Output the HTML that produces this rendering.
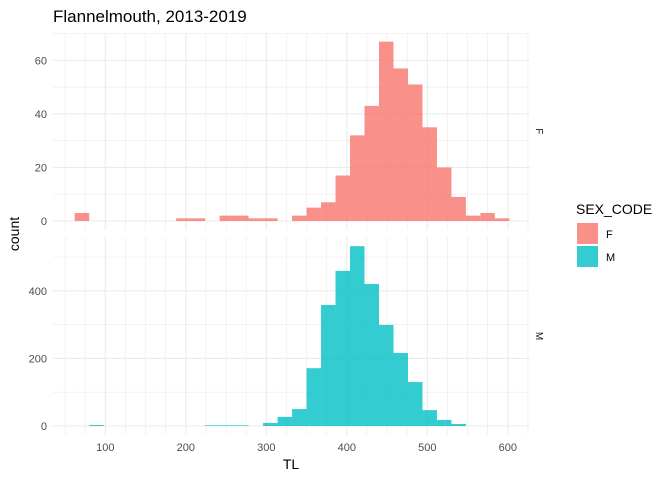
<!DOCTYPE html>
<html><head><meta charset="utf-8"><style>
body{margin:0;background:#fff;}
svg{font-family:"Liberation Sans",sans-serif;}
</style></head><body>
<svg id="c" width="672" height="480"></svg>
<script>
const binStart = 62;
const binWidth = 18;
const countsF = [3,0,0,0,0,0,0,1,1,0,2,2,1,1,0,2,5,7,17,32,43,67,57,51,35,20,9,2,3,1];
const countsM = [0,3,0,0,0,0,0,0,0,2,2,2,0,9,27,50,171,358,459,532,420,299,216,130,47,18,6,0,0,0];
const xTicks = [100,200,300,400,500,600];
const yTicksF = [0,20,40,60];
const yTicksM = [0,200,400];
const ns = "http://www.w3.org/2000/svg";
const svg = document.getElementById('c');
function mk(t,a,p){const e=document.createElementNS(ns,t);for(const k in a)e.setAttribute(k,a[k]);(p||svg).appendChild(e);return e;}
const px0=53, px1=530;
const xS = v => 105.3 + (v-100)*0.805;
const panels = [
 {name:'F', top:32.7, bottom:230, zero:221, k:2.677, counts:countsF, ticks:yTicksF, minor:10, max:70, color:'#F8766D'},
 {name:'M', top:237, bottom:435, zero:426, k:0.338, counts:countsM, ticks:yTicksM, minor:100, max:550, color:'#00BFC4'}
];
panels.forEach(p=>{
  const g = mk('g',{});
  
  
  const yS = v => p.zero - v*p.k;
  for(let v=0; v<=p.max; v+=p.minor/2){
    const y=yS(v); if(y<p.top) break;
    const major = p.ticks.includes(v);
    const isMinor = (v % p.minor)!==0;
    if(isMinor) continue;
    const l=mk('line',{x1:px0,x2:px1,y1:y,y2:y,stroke:'#ebebeb','stroke-width':major?1.1:0.6},g);
    
    
  }
  for(let v=50; v<=625; v+=25){
    const x=xS(v); if(x>px1) break;
    const major = v%100===0;
    const l=mk('line',{x1:x,x2:x,y1:p.top,y2:p.bottom,stroke:'#ebebeb','stroke-width':major?1.1:0.6},g);
    
    
  }
  p.counts.forEach((c,i)=>{
    if(c<=0) return;
    const x0=xS(binStart+i*binWidth), x1=xS(binStart+(i+1)*binWidth);
    const r=mk('rect',{x:x0,y:yS(c),width:x1-x0,height:c*p.k,fill:p.color,'fill-opacity':0.8},g);
    
    
  });
  p.ticks.forEach(v=>{
    const t=mk('text',{x:47,y:yS(v)+4,'text-anchor':'end','font-size':11,fill:'#4d4d4d'},g);
    t.textContent=v;
    
    
  });
  const cy=(p.top+p.bottom)/2;
  const s=mk('text',{x:536,y:cy,'font-size':10,fill:'#1a1a1a',transform:`rotate(90 536 ${cy})`,'text-anchor':'middle'},g);
  s.textContent=p.name;
  
  
});
xTicks.forEach(v=>{
  const t=mk('text',{x:xS(v),y:451,'text-anchor':'middle','font-size':11,fill:'#4d4d4d'});
  t.textContent=v;
  
  
});
let t=mk('text',{x:291,y:469,'text-anchor':'middle','font-size':14,fill:'#000'});
t.textContent='TL';


t=mk('text',{x:19,y:234,'text-anchor':'middle','font-size':14,fill:'#000',transform:'rotate(-90 19 234)'});
t.textContent='count';


t=mk('text',{x:53,y:22,'font-size':17,fill:'#000'});
t.textContent='Flannelmouth, 2013-2019';


t=mk('text',{x:576,y:214,'font-size':14,fill:'#000'});
t.textContent='SEX_CODE';


[['F','#F8766D',223],['M','#00BFC4',246]].forEach(([n,c,y])=>{
  const r=mk('rect',{x:577,y:y,width:21,height:21,fill:c,'fill-opacity':0.8});
  
  
  const tt=mk('text',{x:606,y:y+15,'font-size':11,fill:'#000'});
  tt.textContent=n;
  
  
});
</script>
</body></html>
